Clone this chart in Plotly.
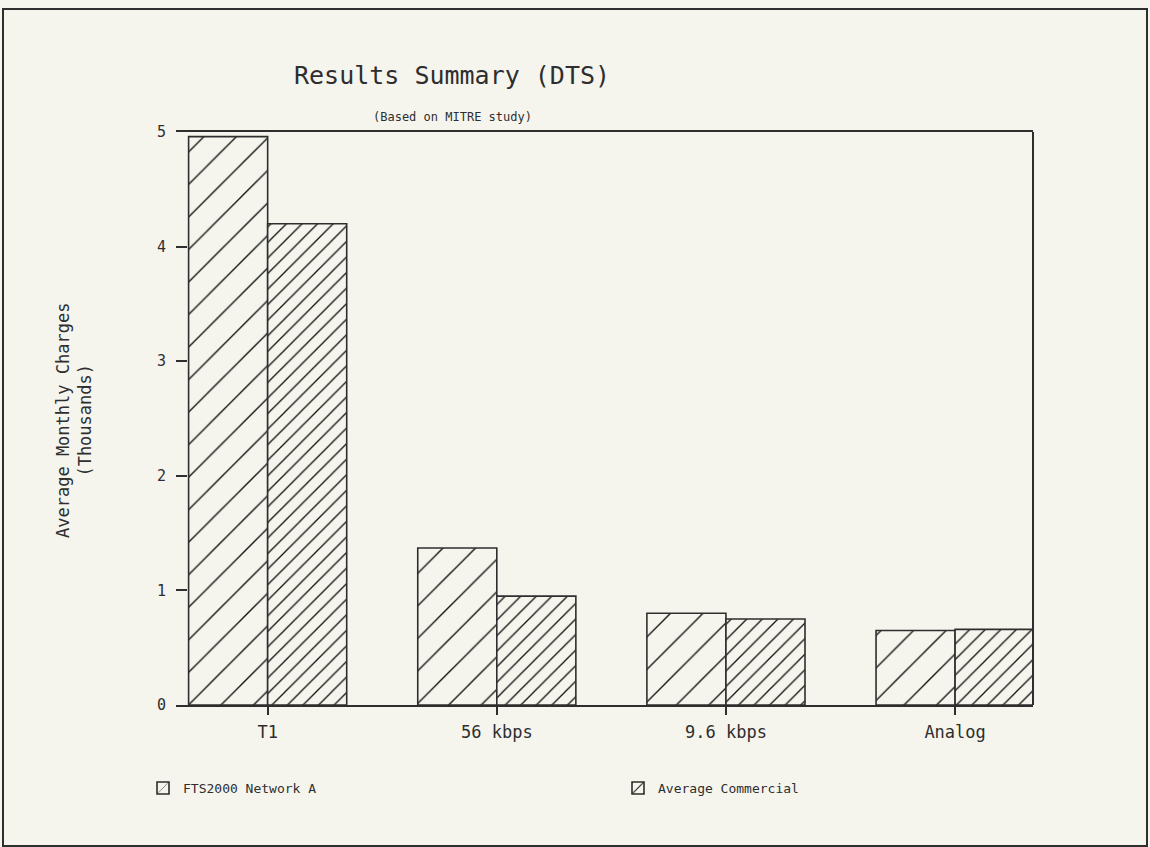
import plotly.graph_objects as go

categories = ["T1", "56 kbps", "9.6 kbps", "Analog"]
fts2000 = [4.96, 1.37, 0.80, 0.65]
commercial = [4.20, 0.95, 0.75, 0.66]
series_names = ["FTS2000 Network A", "Average Commercial"]
y_ticks = [0, 1, 2, 3, 4, 5]

BG = "#f5f5ee"
INK = "#2e2e2e"
FONT = "DejaVu Sans Mono"

W, H = 1150, 847
L, R, T, B = 176, 117, 132, 142
PW, PH = W - L - R, H - T - B


def xp(px):
    return (px - L) / PW


def yp(py):
    return (H - B - py) / PH


fig = go.Figure()
fig.add_trace(go.Bar(
    x=categories, y=fts2000, name=series_names[0],
    marker=dict(color=BG, line=dict(color=INK, width=1.6),
                pattern=dict(shape="/", size=23, solidity=0.06,
                             fgcolor="#111111", fgopacity=1, bgcolor=BG)),
))
fig.add_trace(go.Bar(
    x=categories, y=commercial, name=series_names[1],
    marker=dict(color=BG, line=dict(color=INK, width=1.6),
                pattern=dict(shape="/", size=11, solidity=0.12,
                             fgcolor="#111111", fgopacity=1, bgcolor=BG)),
))

fig.update_layout(
    width=W, height=H,
    margin=dict(l=L, r=R, t=T, b=B, autoexpand=False),
    paper_bgcolor=BG, plot_bgcolor=BG,
    barmode="group", bargap=0.31, bargroupgap=0,
    font=dict(family=FONT, color=INK, size=13),
    showlegend=True,
    legend=dict(orientation="h", x=xp(143), xanchor="left",
                y=yp(788), yanchor="middle",
                entrywidth=430, entrywidthmode="pixels",
                bgcolor="rgba(0,0,0,0)", font=dict(size=13, family=FONT, color=INK),
                traceorder="normal"),
    xaxis=dict(type="category", range=[-0.40, 3.34],
               showline=True, linecolor=INK, linewidth=2, mirror=True,
               ticks="outside", ticklen=8, tickcolor=INK, tickwidth=1.5,
               ticklabelstandoff=3,
               showgrid=False, zeroline=False,
               tickfont=dict(size=17, family=FONT, color=INK)),
    yaxis=dict(range=[0, 5], tickvals=y_ticks,
               showline=False, showgrid=False, zeroline=False,
               ticks="inside", ticklen=11, tickcolor=INK, tickwidth=1.5,
               ticklabelstandoff=9,
               tickfont=dict(size=15, family=FONT, color=INK)),
    shapes=[
        dict(type="line", xref="paper", yref="paper", x0=1, x1=1, y0=0, y1=1,
             line=dict(color=INK, width=2)),
        dict(type="rect", xref="paper", yref="paper",
             x0=xp(3), x1=xp(1147), y0=yp(846), y1=yp(9),
             line=dict(color=INK, width=2), fillcolor="rgba(0,0,0,0)"),
    ],
    annotations=[
        dict(text="Results Summary (DTS)", xref="paper", yref="paper",
             x=xp(452), y=yp(75), xanchor="center", yanchor="middle",
             showarrow=False, font=dict(size=25, family=FONT, color=INK)),
        dict(text="(Based on MITRE study)", xref="paper", yref="paper",
             x=xp(452), y=yp(117), xanchor="center", yanchor="middle",
             showarrow=False, font=dict(size=12, family=FONT, color=INK)),
        dict(text="Average Monthly Charges<br>(Thousands)", xref="paper", yref="paper",
             x=xp(74), y=yp(421), xanchor="center", yanchor="middle",
             textangle=-90, showarrow=False,
             font=dict(size=17, family=FONT, color=INK)),
    ],
)

fig.write_html("out.html", post_script="document.body.style.margin='0';",
               config={"displayModeBar": False})
